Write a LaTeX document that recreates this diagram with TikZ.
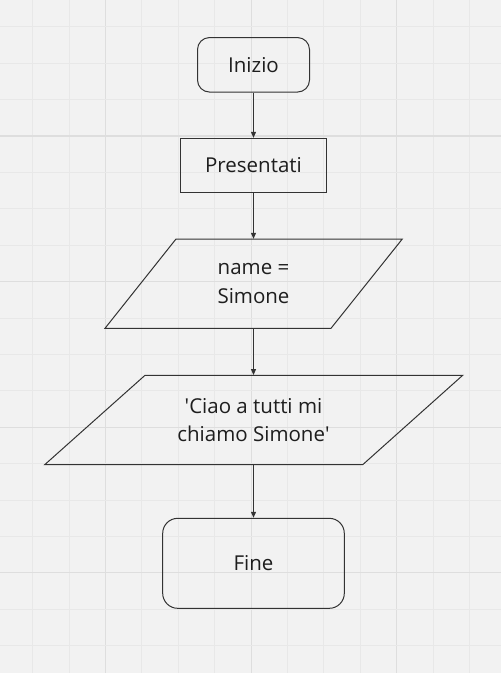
\documentclass[tikz,border=0pt]{standalone}
\usepackage{fontspec}
\setmainfont{Open Sans}
\usetikzlibrary{arrows.meta}
\definecolor{bgcol}{HTML}{F2F2F2}
\definecolor{minorcol}{HTML}{E8E8E8}
\definecolor{majorcol}{HTML}{DEDEDE}
\definecolor{inkcol}{HTML}{333333}
\definecolor{textcol}{HTML}{1E1E1E}
\tikzset{
  shapeline/.style={draw=inkcol, line width=1pt},
  label text/.style={text=textcol, align=center, font=\fontsize{20.5}{28.5}\selectfont},
  terminal/.style={shapeline, label text, rounded corners=#1},
  procbox/.style={shapeline, label text},
  iobox/.style={label text, inner sep=0pt},
  flow/.style={draw=inkcol, line width=1pt, -{Triangle[length=6pt,width=5pt]}},
  minorline/.style={draw=minorcol, line width=0.9pt},
  majorline/.style={draw=majorcol, line width=1.1pt}
}
\begin{document}
\begin{tikzpicture}[x=1pt,y=-1pt]
\fill[bgcol] (0,0) rectangle (501,673);
\useasboundingbox (0,0) rectangle (501,673);
% grid
\foreach \k in {-2,...,10} {
  \pgfmathsetmacro{\gx}{105.5+\k*36.4}
  \pgfmathtruncatemacro{\m}{mod(\k+8,4)}
  \ifnum\m=0 \draw[majorline] (\gx,0) -- (\gx,673); \else \draw[minorline] (\gx,0) -- (\gx,673); \fi
}
\foreach \k in {-3,...,14} {
  \pgfmathsetmacro{\gy}{136+\k*36.4}
  \pgfmathtruncatemacro{\m}{mod(\k+12,4)}
  \ifnum\m=0 \draw[majorline] (0,\gy) -- (501,\gy); \else \draw[minorline] (0,\gy) -- (501,\gy); \fi
}
% nodes
\node[terminal=12pt, minimum width=112pt, minimum height=54.5pt] (inizio) at (253.5,64.8) {Inizio};
\node[procbox, minimum width=146pt, minimum height=53.7pt] (pres) at (253.5,165.2) {Presentati};
\draw[shapeline] (176,239) -- (402.3,239) -- (331,328.3) -- (105,328.3) -- cycle;
\node[iobox, minimum height=89.3pt] (name) at (253.5,283.7) {name =\\Simone};
\draw[shapeline] (145,375.3) -- (462.7,375.3) -- (362.7,464.7) -- (44.7,464.7) -- cycle;
\node[iobox, minimum height=89.4pt] (ciao) at (253.5,420) {\textquotesingle Ciao a tutti mi\\chiamo Simone\textquotesingle};
\node[terminal=15pt, minimum width=181.6pt, minimum height=90pt] (fine) at (253.5,563.3) {Fine};
% connectors
\draw[flow] (inizio.south) -- (pres.north);
\draw[flow] (pres.south) -- (name.north);
\draw[flow] (name.south) -- (ciao.north);
\draw[flow] (ciao.south) -- (fine.north);
\end{tikzpicture}
\end{document}
